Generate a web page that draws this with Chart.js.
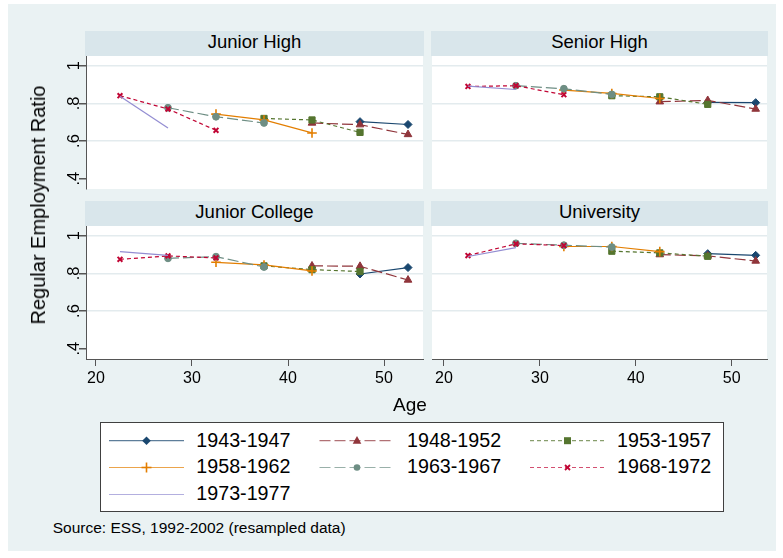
<!DOCTYPE html>
<html>
<head>
<meta charset="utf-8">
<script src="https://cdn.jsdelivr.net/npm/chart.js@4/dist/chart.umd.min.js"></script>
<style>
  html, body { margin: 0; padding: 0; background: #fff; }
  body { width: 783px; height: 558px; position: relative; overflow: hidden;
         font-family: "Liberation Sans", Arial, Helvetica, sans-serif; color: #000; }
  #bg { position: absolute; left: 8px; top: 4px; width: 768px; height: 547px; background: #EAF2F3; }
  .hdr { position: absolute; background: #D9E6EB; }
  .txt { position: absolute; line-height: 1; white-space: nowrap; }
  canvas { position: absolute; }
  #legendBox { position: absolute; left: 100px; top: 422px; width: 622px; height: 88px;
               background: #fff; border: 1px solid #404040; }
  #legendSvg { position: absolute; left: 0; top: 0; }
</style>
</head>
<body>
<div id="bg"></div>
<div id="legendBox"></div>
<svg id="legendSvg" width="783" height="558"></svg>

<script>
// ---- data ---------------------------------------------------------------
const ageGroups = [22.5, 27.5, 32.5, 37.5, 42.5, 47.5, 52.5];
const cohorts = ['1943-1947', '1948-1952', '1953-1957', '1958-1962',
                 '1963-1967', '1968-1972', '1973-1977'];
const panelTitles = ['Junior High', 'Senior High', 'Junior College', 'University'];

const yTicks = [0.4, 0.6, 0.8, 1];
const yTickLabels = ['.4', '.6', '.8', '1'];
const xTicks = [20, 30, 40, 50];
const xTickLabels = ['20', '30', '40', '50'];

// one row per cohort, one column per age group (null = not observed)
const juniorHigh = [
  [null, null, null, null, null, 0.703, 0.688],
  [null, null, null, null, 0.696, 0.687, 0.635],
  [null, null, null, 0.720, 0.712, 0.646, null],
  [null, null, 0.743, 0.712, 0.643, null, null],
  [null, 0.777, 0.729, 0.696, null, null, null],
  [0.841, 0.770, 0.657, null, null, null, null],
  [0.838, 0.669, null, null, null, null, null]
];
const seniorHigh = [
  [null, null, null, null, null, 0.805, 0.804],
  [null, null, null, null, 0.809, 0.816, 0.770],
  [null, null, null, 0.841, 0.835, 0.795, null],
  [null, null, 0.871, 0.853, 0.826, null, null],
  [null, 0.894, 0.878, 0.848, null, null, null],
  [0.890, 0.894, 0.846, null, null, null, null],
  [0.892, 0.874, null, null, null, null, null]
];
const juniorCollege = [
  [null, null, null, null, null, 0.797, 0.831],
  [null, null, null, null, 0.840, 0.838, 0.765],
  [null, null, null, 0.840, 0.820, 0.810, null],
  [null, null, 0.859, 0.845, 0.813, null, null],
  [null, 0.880, 0.889, 0.834, null, null, null],
  [0.875, 0.893, 0.882, null, null, null, null],
  [0.916, 0.896, null, null, null, null, null]
];
const university = [
  [null, null, null, null, null, 0.905, 0.896],
  [null, null, null, null, 0.900, 0.893, 0.866],
  [null, null, null, 0.918, 0.909, 0.891, null],
  [null, null, 0.943, 0.943, 0.916, null, null],
  [null, 0.960, 0.950, 0.940, null, null, null],
  [0.895, 0.957, 0.948, null, null, null, null],
  [0.890, 0.937, null, null, null, null, null]
];
const panelValues = [juniorHigh, seniorHigh, juniorCollege, university];

// ---- styling ------------------------------------------------------------
const FONT = '"Liberation Sans", Arial, Helvetica, sans-serif';
const AXIS_COLOR = '#555555';
const GRID_COLOR = '#E3EBEE';

const seriesStyle = [
  { color: '#1A476F', dash: [],      marker: 'rectRot',  r: 4.0, bw: 1 },
  { color: '#90353B', dash: [11, 4], marker: 'triangle', r: 4.4, bw: 1 },
  { color: '#55752F', dash: [4, 3],  marker: 'rect',     r: 4.4, bw: 1 },
  { color: '#E37E00', dash: [],      marker: 'cross',    r: 4.8, bw: 1.6 },
  { color: '#6E8E84', dash: [11, 4], marker: 'circle',   r: 3.4, bw: 1 },
  { color: '#C10534', dash: [4, 3],  marker: 'crossRot', r: 3.4, bw: 2 },
  { color: '#938DD2', dash: [],      marker: false,      r: 0,   bw: 0 }
];

// plot regions of the 2x2 panel grid (page pixels)
const panelBoxes = [
  { left: 86,  top: 56,  right: 423, bottom: 189, yAxis: true,  xAxis: false, xMin: 18.96, xMax: 54.06 },
  { left: 432, top: 56,  right: 767, bottom: 189, yAxis: false, xAxis: false, xMin: 18.75, xMax: 53.68 },
  { left: 86,  top: 226, right: 423, bottom: 359, yAxis: true,  xAxis: true,  xMin: 18.96, xMax: 54.06 },
  { left: 432, top: 226, right: 767, bottom: 359, yAxis: false, xAxis: true,  xMin: 18.75, xMax: 53.68 }
];
const Y_MIN = 0.345, Y_MAX = 1.052;

function addText(str, left, top, size, extraStyle) {
  const d = document.createElement('div');
  d.className = 'txt';
  d.textContent = str;
  d.style.left = left + 'px';
  d.style.top = top + 'px';
  d.style.fontSize = size + 'px';
  if (extraStyle) Object.assign(d.style, extraStyle);
  document.body.appendChild(d);
  return d;
}

const plotBackground = {
  id: 'plotBackground',
  beforeDraw(chart) {
    const { ctx, chartArea: a } = chart;
    ctx.save();
    ctx.fillStyle = '#ffffff';
    ctx.fillRect(a.left, a.top, a.right - a.left, a.bottom - a.top);
    ctx.restore();
  }
};

function buildPanel(i) {
  const box = panelBoxes[i];
  const values = panelValues[i];

  // panel header strip
  const hdr = document.createElement('div');
  hdr.className = 'hdr';
  hdr.style.left = (box.left - 1) + 'px';
  hdr.style.top = (box.top - 25) + 'px';
  hdr.style.width = (box.right - box.left + 2) + 'px';
  hdr.style.height = '25px';
  document.body.appendChild(hdr);
  addText(panelTitles[i], (box.left + box.right) / 2, box.top - 25 + 1.6, 18.5,
          { transform: 'translateX(-50%)' });

  const padL = box.yAxis ? 0 : 12, padR = 12, padT = 20;
  const xAxisH = box.xAxis ? 30 : 0;
  const padB = box.xAxis ? 10 : 20;
  const cx = box.yAxis ? 0 : box.left - padL;
  const cy = box.top - padT;
  const cw = box.right + padR - cx;
  const ch = box.bottom + xAxisH + padB - cy;

  const canvas = document.createElement('canvas');
  canvas.width = cw; canvas.height = ch;
  canvas.style.left = cx + 'px'; canvas.style.top = cy + 'px';
  canvas.style.width = cw + 'px'; canvas.style.height = ch + 'px';
  document.body.appendChild(canvas);

  const datasets = cohorts.map((name, c) => {
    const st = seriesStyle[c];
    const pts = [];
    ageGroups.forEach((age, k) => {
      if (values[c][k] !== null) pts.push({ x: age, y: values[c][k] });
    });
    return {
      label: name,
      data: pts,
      borderColor: st.color,
      backgroundColor: st.color,
      borderWidth: 1.2,
      borderDash: st.dash,
      pointStyle: st.marker,
      pointRadius: st.r,
      pointBorderWidth: st.bw,
      pointBackgroundColor: st.color,
      pointBorderColor: st.color,
      tension: 0,
      order: -c
    };
  });

  new Chart(canvas, {
    type: 'line',
    data: { datasets },
    plugins: [plotBackground],
    options: {
      responsive: false,
      animation: false,
      events: [],
      devicePixelRatio: 1,
      layout: { padding: { left: padL, right: padR, top: padT, bottom: padB } },
      plugins: { legend: { display: false }, tooltip: { enabled: false }, title: { display: false } },
      scales: {
        x: {
          type: 'linear',
          min: box.xMin, max: box.xMax,
          display: box.xAxis,
          afterBuildTicks: s => { s.ticks = xTicks.map(v => ({ value: v })); },
          afterFit: s => { s.height = xAxisH; },
          border: { display: true, color: AXIS_COLOR, width: 1 },
          grid: { drawOnChartArea: false, drawTicks: true, tickLength: 7, tickColor: AXIS_COLOR, tickWidth: 1 },
          ticks: {
            font: { family: FONT, size: 16 }, color: '#000', padding: 3,
            maxRotation: 0, minRotation: 0, autoSkip: false,
            callback: (v, idx) => xTickLabels[idx]
          }
        },
        y: {
          type: 'linear',
          min: Y_MIN, max: Y_MAX,
          display: true,
          afterBuildTicks: s => { s.ticks = yTicks.map(v => ({ value: v })); },
          afterFit: s => { s.width = box.yAxis ? box.left : 0; },
          border: { display: box.yAxis, color: AXIS_COLOR, width: 1 },
          grid: {
            drawOnChartArea: true,
            drawTicks: box.yAxis,
            tickLength: 7,
            tickColor: AXIS_COLOR,
            color: ctx => (ctx.tick && ctx.tick.value === 0.4) ? 'rgba(0,0,0,0)' : GRID_COLOR,
            lineWidth: 1.5
          },
          ticks: {
            display: box.yAxis,
            font: { family: FONT, size: 16.5 }, color: '#000',
            minRotation: 90, maxRotation: 90, crossAlign: 'center', padding: -2,
            autoSkip: false,
            callback: (v, idx) => yTickLabels[idx]
          }
        }
      }
    }
  });
}

panelBoxes.forEach((_, i) => buildPanel(i));

// axis titles
addText('Regular Employment Ratio', 38, 205, 20,
        { transform: 'translate(-50%, -50%) rotate(-90deg)' });
addText('Age', 410, 404 - 0.49 * 19, 19, { transform: 'translateX(-50%)' });

// legend
const legendCols = [109, 319.5, 530];
const legendTextX = [196.3, 407, 617];
const legendRows = [440.2, 467, 494];
const svgNS = 'http://www.w3.org/2000/svg';
const svg = document.getElementById('legendSvg');
function svgEl(tag, attrs) {
  const e = document.createElementNS(svgNS, tag);
  for (const k in attrs) e.setAttribute(k, attrs[k]);
  svg.appendChild(e);
  return e;
}
cohorts.forEach((name, c) => {
  const st = seriesStyle[c];
  const col = c % 3, row = Math.floor(c / 3);
  const x1 = legendCols[col], x2 = x1 + 75, y = legendRows[row] + 0.5;
  const mx = (x1 + x2) / 2;
  svgEl('line', { x1, y1: y, x2, y2: y, stroke: st.color, 'stroke-width': 1.2,
                  'stroke-opacity': 0.7, 'stroke-dasharray': st.dash.join(' ') || 'none' });
  if (st.marker === 'rectRot') {
    svgEl('polygon', { points: `${mx},${y-4.3} ${mx+4.3},${y} ${mx},${y+4.3} ${mx-4.3},${y}`, fill: st.color });
  } else if (st.marker === 'triangle') {
    svgEl('polygon', { points: `${mx},${y-4.8} ${mx+4.3},${y+3} ${mx-4.3},${y+3}`, fill: st.color });
  } else if (st.marker === 'rect') {
    svgEl('rect', { x: mx - 3.5, y: y - 3.5, width: 7, height: 7, fill: st.color });
  } else if (st.marker === 'cross') {
    svgEl('line', { x1: mx - 5, y1: y, x2: mx + 5, y2: y, stroke: st.color, 'stroke-width': 1.6 });
    svgEl('line', { x1: mx, y1: y - 5, x2: mx, y2: y + 5, stroke: st.color, 'stroke-width': 1.6 });
  } else if (st.marker === 'circle') {
    svgEl('circle', { cx: mx, cy: y, r: 3.3, fill: st.color });
  } else if (st.marker === 'crossRot') {
    svgEl('line', { x1: mx - 2.5, y1: y - 2.5, x2: mx + 2.5, y2: y + 2.5, stroke: st.color, 'stroke-width': 1.8 });
    svgEl('line', { x1: mx - 2.5, y1: y + 2.5, x2: mx + 2.5, y2: y - 2.5, stroke: st.color, 'stroke-width': 1.8 });
  }
  addText(name, legendTextX[col], legendRows[row] - 0.49 * 19.7, 19.7);
});

// note
addText('Source: ESS, 1992-2002 (resampled data)', 52.7, 520, 15.5);
</script>
</body>
</html>
